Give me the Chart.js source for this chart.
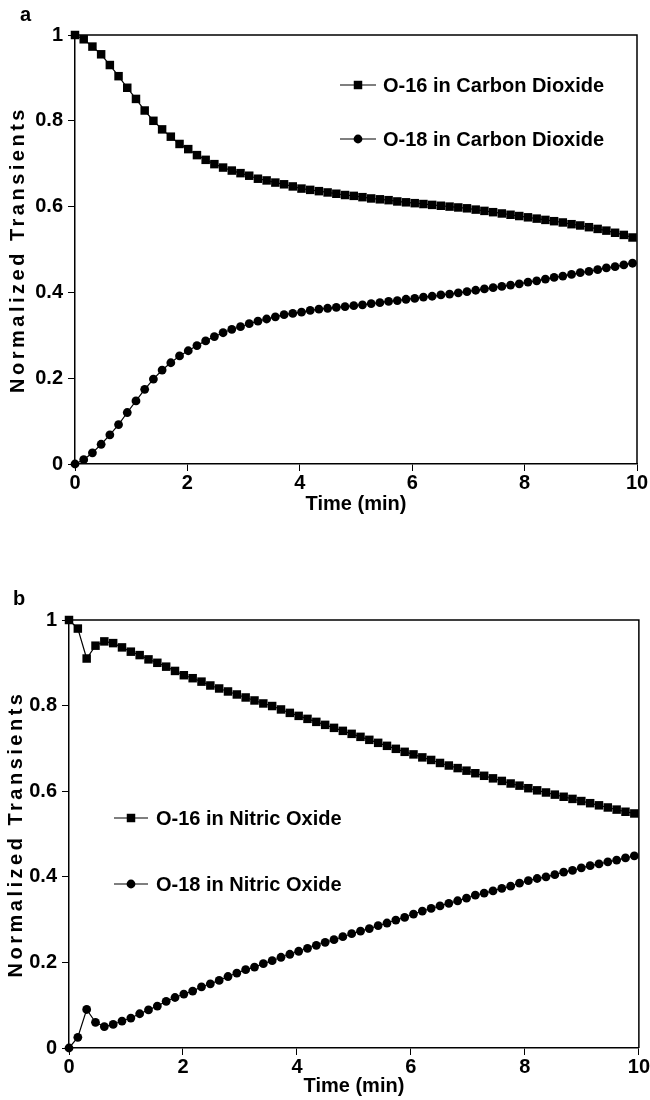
<!DOCTYPE html>
<html>
<head>
<meta charset="utf-8">
<script src="https://cdn.jsdelivr.net/npm/chart.js@4/dist/chart.umd.min.js"></script>
<style>
  html, body { margin: 0; padding: 0; background: #fff; }
  body { width: 650px; height: 1100px; position: relative; overflow: hidden; }
  .wrap { position: absolute; left: 0; width: 650px; height: 520px; }
  #wa { top: 0; }
  #wb { top: 580px; }
</style>
</head>
<body>
<div class="wrap" id="wa"><canvas id="ca" width="650" height="520"></canvas></div>
<div class="wrap" id="wb"><canvas id="cb" width="650" height="520"></canvas></div>
<script>
// ---- data ----
const timeMin = [0.00,0.155,0.31,0.465,0.62,0.775,0.93,1.085,1.24,1.395,1.55,1.705,1.86,2.015,2.17,2.325,2.48,2.635,2.79,2.945,3.10,3.255,3.41,3.565,3.72,3.875,4.03,4.185,4.34,4.495,4.65,4.805,4.96,5.115,5.27,5.425,5.58,5.735,5.89,6.045,6.20,6.355,6.51,6.665,6.82,6.975,7.13,7.285,7.44,7.595,7.75,7.905,8.06,8.215,8.37,8.525,8.68,8.835,8.99,9.145,9.30,9.455,9.61,9.765,9.92];

const o16CarbonDioxide = [1.000,0.990,0.973,0.955,0.930,0.904,0.877,0.851,0.824,0.800,0.780,0.763,0.746,0.734,0.720,0.709,0.699,0.691,0.684,0.678,0.672,0.665,0.661,0.656,0.652,0.647,0.642,0.639,0.636,0.633,0.630,0.627,0.625,0.622,0.619,0.617,0.615,0.612,0.610,0.608,0.606,0.604,0.602,0.600,0.598,0.596,0.593,0.590,0.587,0.584,0.581,0.578,0.575,0.572,0.569,0.566,0.563,0.559,0.556,0.552,0.548,0.544,0.539,0.534,0.528];

const o18CarbonDioxide = [0.000,0.010,0.026,0.046,0.068,0.092,0.120,0.147,0.174,0.198,0.219,0.236,0.252,0.264,0.276,0.287,0.297,0.306,0.314,0.320,0.327,0.333,0.338,0.343,0.348,0.351,0.354,0.358,0.361,0.363,0.365,0.367,0.369,0.371,0.374,0.376,0.379,0.381,0.384,0.386,0.389,0.391,0.394,0.396,0.399,0.402,0.405,0.408,0.411,0.414,0.417,0.420,0.424,0.427,0.431,0.435,0.438,0.442,0.446,0.449,0.453,0.457,0.460,0.464,0.468];

const o16NitricOxide = [1.000,0.980,0.910,0.940,0.950,0.946,0.936,0.926,0.918,0.908,0.900,0.891,0.881,0.871,0.864,0.856,0.847,0.840,0.833,0.826,0.819,0.812,0.805,0.799,0.791,0.783,0.776,0.769,0.762,0.755,0.748,0.741,0.734,0.727,0.720,0.713,0.706,0.699,0.692,0.686,0.679,0.673,0.666,0.660,0.654,0.648,0.642,0.636,0.630,0.624,0.618,0.613,0.607,0.602,0.597,0.592,0.587,0.582,0.577,0.572,0.567,0.562,0.557,0.552,0.548];

const o18NitricOxide = [0.000,0.025,0.090,0.060,0.050,0.055,0.063,0.070,0.080,0.089,0.098,0.109,0.118,0.126,0.133,0.143,0.150,0.158,0.167,0.175,0.183,0.189,0.197,0.204,0.212,0.219,0.226,0.233,0.240,0.247,0.253,0.260,0.267,0.273,0.279,0.286,0.292,0.299,0.305,0.313,0.320,0.326,0.332,0.338,0.344,0.350,0.357,0.362,0.367,0.373,0.378,0.385,0.391,0.396,0.400,0.405,0.411,0.415,0.421,0.426,0.430,0.435,0.439,0.444,0.449];

const xTickValues = [0, 2, 4, 6, 8, 10];
const yTickValues = [0, 0.2, 0.4, 0.6, 0.8, 1];
const yTickLabels = ['0', '0.2', '0.4', '0.6', '0.8', '1'];
const panelALabels = ['O-16 in Carbon Dioxide', 'O-18 in Carbon Dioxide'];
const panelBLabels = ['O-16 in Nitric Oxide', 'O-18 in Nitric Oxide'];
const xTitle = 'Time (min)';
const yTitle = 'Normalized Transients';

// ---- helpers ----
const FONT = '"Liberation Sans", Arial, Helvetica, sans-serif';
Chart.defaults.font.family = FONT;
Chart.defaults.color = '#000';

function pts(ys) { return ys.map((y, i) => ({ x: timeMin[i], y: y })); }

function ds(label, ys, style) {
  return {
    label: label,
    data: pts(ys),
    borderColor: '#000',
    backgroundColor: '#000',
    borderWidth: 1.2,
    pointStyle: style,
    pointRadius: style === 'rect' ? 6 : 4.4,
    pointHoverRadius: style === 'rect' ? 6 : 4.4,
    pointBorderWidth: 0,
    tension: 0,
    clip: false,
    showLine: true,
    fill: false
  };
}

const boxPlugin = {
  id: 'box',
  afterDraw(chart, args, opts) {
    const ctx = chart.ctx, a = chart.chartArea;
    ctx.save();
    ctx.strokeStyle = '#000';
    ctx.lineWidth = 1.5;
    ctx.beginPath();
    ctx.moveTo(a.left, a.top); ctx.lineTo(a.right, a.top); ctx.lineTo(a.right, a.bottom);
    ctx.stroke();
    // panel letter
    ctx.fillStyle = '#000';
    ctx.font = 'bold 20px ' + FONT;
    ctx.textBaseline = 'alphabetic';
    ctx.textAlign = 'left';
    ctx.fillText(opts.letter, opts.lx, opts.ly);
    // y-axis title (wide tracking as in the original)
    ctx.save();
    ctx.translate(opts.ytx, (a.top + a.bottom) / 2);
    ctx.rotate(-Math.PI / 2);
    ctx.font = 'bold 20px ' + FONT;
    ctx.letterSpacing = '3.5px';
    ctx.textAlign = 'center';
    ctx.textBaseline = 'middle';
    ctx.fillText(yTitle, 0, 0);
    ctx.restore();
    // legend
    const lg = opts.legend;
    chart.data.datasets.forEach((d, i) => {
      const y = lg.y[i];
      ctx.strokeStyle = '#000';
      ctx.lineWidth = 1.2;
      ctx.beginPath(); ctx.moveTo(lg.x1, y); ctx.lineTo(lg.x2, y); ctx.stroke();
      Chart.helpers.drawPoint(ctx, { pointStyle: d.pointStyle, radius: d.pointRadius, borderWidth: 0 }, (lg.x1 + lg.x2) / 2, y);
      ctx.fillStyle = '#000';
      ctx.font = 'bold 20px ' + FONT;
      ctx.textBaseline = 'middle';
      ctx.textAlign = 'left';
      ctx.fillText(d.label, lg.tx, y + 1);
    });
    ctx.restore();
  }
};

function makeChart(id, sets, cfg) {
  return new Chart(document.getElementById(id), {
    type: 'scatter',
    data: { datasets: sets },
    plugins: [boxPlugin],
    options: {
      responsive: false,
      devicePixelRatio: 1,
      animation: false,
      events: [],
      layout: { padding: { top: cfg.top, right: cfg.right, left: 0, bottom: cfg.bottom } },
      plugins: {
        legend: { display: false },
        tooltip: { enabled: false },
        box: cfg.box
      },
      scales: {
        x: {
          type: 'linear', min: 0, max: 10,
          afterBuildTicks: s => { s.ticks = xTickValues.map(v => ({ value: v })); },
          afterFit: s => { s.height = cfg.xh; },
          grid: { display: true, drawOnChartArea: false, drawTicks: true, tickLength: 7, color: '#000', lineWidth: 1 },
          border: { display: true, color: '#000', width: 1.5 },
          ticks: { font: { size: 20, weight: 'bold' }, color: '#000', padding: 0, maxRotation: 0, autoSkip: false },
          title: { display: true, text: xTitle, font: { size: 20, weight: 'bold', lineHeight: 1.0 }, color: '#000', padding: { top: 0, bottom: 0 } }
        },
        y: {
          type: 'linear', min: 0, max: 1,
          afterBuildTicks: s => { s.ticks = yTickValues.map(v => ({ value: v })); },
          afterFit: s => { s.width = cfg.yw; },
          grid: { display: true, drawOnChartArea: false, drawTicks: true, tickLength: 7, color: '#000', lineWidth: 1 },
          border: { display: true, color: '#000', width: 1.5 },
          ticks: {
            font: { size: 20, weight: 'bold' }, color: '#000', padding: 5, autoSkip: false,
            callback: (v) => { const k = yTickValues.indexOf(v); return k >= 0 ? yTickLabels[k] : ''; }
          },
          title: { display: false }
        }
      }
    }
  });
}

makeChart('ca', [ds(panelALabels[0], o16CarbonDioxide, 'rect'), ds(panelALabels[1], o18CarbonDioxide, 'circle')], {
  top: 35, right: 13, bottom: 6, yw: 75, xh: 50,
  box: { letter: 'a', lx: 20, ly: 21, ytx: 18, legend: { x1: 340, x2: 376, tx: 383, y: [85, 139] } }
});

makeChart('cb', [ds(panelBLabels[0], o16NitricOxide, 'rect'), ds(panelBLabels[1], o18NitricOxide, 'circle')], {
  top: 40, right: 11, bottom: 4, yw: 69, xh: 48,
  box: { letter: 'b', lx: 13, ly: 25, ytx: 16, legend: { x1: 114, x2: 148, tx: 156, y: [238, 304] } }
});
</script>
</body>
</html>
